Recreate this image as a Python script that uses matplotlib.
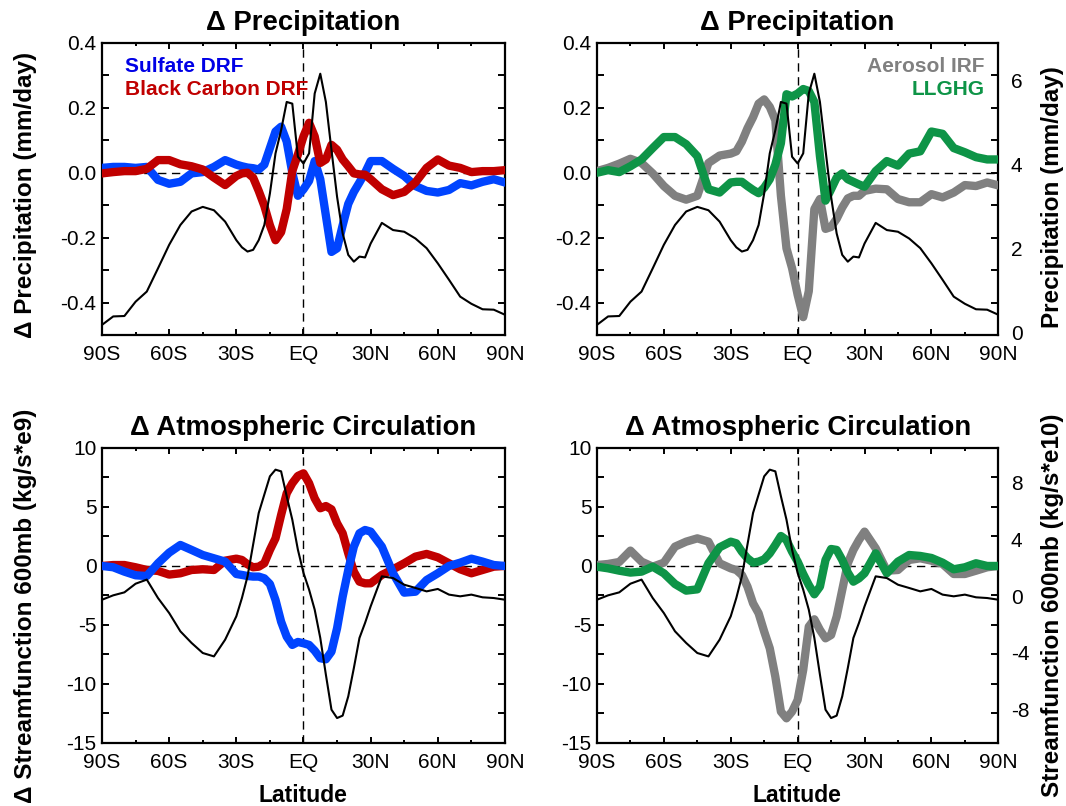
import numpy as np
import matplotlib.pyplot as plt

plt.rcParams['font.family'] = ['Liberation Sans', 'DejaVu Sans']
plt.rcParams['axes.unicode_minus'] = False

# latitude grid (5 deg outside the tropics, 2.5 deg inside)
lat = [-90, -85, -80, -75, -70, -65, -60, -55, -50, -45, -40, -35, -30,
       -27.5, -25, -22.5, -20, -17.5, -15, -12.5, -10, -7.5, -5, -2.5, 0,
       2.5, 5, 7.5, 10, 12.5, 15, 17.5, 20, 22.5, 25, 27.5, 30,
       35, 40, 45, 50, 55, 60, 65, 70, 75, 80, 85, 90]

# climatological precipitation (mm/day, right axis)
precip_clim = [0.19, 0.39, 0.40, 0.74, 0.98, 1.53, 2.09, 2.56, 2.88, 2.99, 2.91, 2.64, 2.20,
               2.03, 1.93, 1.97, 2.20, 2.56, 3.31, 4.26, 4.81, 5.48, 5.44, 4.18, 4.02,
               4.26, 5.68, 6.15, 5.48, 4.34, 3.23, 2.36, 1.85, 1.69, 1.81, 1.79, 2.12,
               2.61, 2.44, 2.40, 2.24, 2.01, 1.65, 1.26, 0.86, 0.69, 0.56, 0.55, 0.43]

# climatological streamfunction 600mb (kg/s*e10, right axis)
psi_clim = [-0.24, 0.07, 0.28, 0.89, 1.18, -0.12, -1.18, -2.47, -3.29, -4.00, -4.24, -3.06, -1.41,
            -0.12, 1.41, 3.65, 5.88, 7.18, 8.47, 8.94, 8.82, 7.06, 5.41, 3.29, 1.65,
            0.47, -0.94, -2.94, -5.53, -8.00, -8.59, -8.42, -7.06, -5.06, -2.94, -1.88, -0.71,
            1.41, 1.29, 0.82, 0.59, 0.35, 0.52, 0.12, 0.00, 0.12, -0.07, -0.12, -0.24]

# delta precipitation (mm/day)
dp_sulfate = [0.015, 0.018, 0.018, 0.015, 0.018, -0.022, -0.034, -0.028, -0.002, 0.002, 0.018, 0.039, 0.025,
              0.020, 0.016, 0.014, 0.010, 0.025, 0.076, 0.127, 0.142, 0.096, 0.000, -0.071, -0.051,
              -0.025, 0.036, -0.020, -0.132, -0.244, -0.233, -0.162, -0.096, -0.059, -0.030, 0.000, 0.036,
              0.036, 0.012, -0.010, -0.041, -0.056, -0.061, -0.053, -0.032, -0.039, -0.028, -0.020, -0.030]
dp_bc = [-0.002, 0.002, 0.005, 0.005, 0.012, 0.039, 0.039, 0.026, 0.020, 0.010, -0.015, -0.038, -0.010,
         -0.002, 0.000, -0.015, -0.056, -0.102, -0.162, -0.208, -0.183, -0.112, 0.005, 0.056, 0.112,
         0.154, 0.112, 0.030, 0.041, 0.086, 0.071, 0.041, 0.020, -0.002, -0.005, -0.006, -0.020,
         -0.051, -0.069, -0.059, -0.030, 0.015, 0.041, 0.022, 0.015, 0.002, 0.005, 0.005, 0.008]
dp_irf = [0.005, 0.015, 0.028, 0.043, 0.030, -0.002, -0.041, -0.071, -0.083, -0.071, 0.030, 0.053, 0.059,
          0.066, 0.096, 0.137, 0.171, 0.213, 0.226, 0.203, 0.162, -0.071, -0.233, -0.294, -0.376,
          -0.445, -0.365, -0.112, -0.081, -0.173, -0.167, -0.142, -0.107, -0.079, -0.071, -0.071, -0.056,
          -0.049, -0.051, -0.081, -0.091, -0.091, -0.066, -0.076, -0.061, -0.038, -0.041, -0.030, -0.039]
dp_llghg = [0.000, 0.008, 0.002, 0.020, 0.041, 0.076, 0.110, 0.110, 0.088, 0.051, -0.051, -0.061, -0.030,
            -0.028, -0.028, -0.041, -0.053, -0.063, -0.046, -0.020, 0.025, 0.091, 0.242, 0.235, 0.244,
            0.258, 0.252, 0.218, 0.051, -0.086, -0.051, -0.015, -0.002, -0.020, -0.028, -0.036, -0.043,
            0.005, 0.036, 0.022, 0.059, 0.066, 0.127, 0.120, 0.076, 0.063, 0.048, 0.041, 0.041]

# delta streamfunction 600mb (kg/s*e9)
dpsi_sulfate = [0.00, -0.11, -0.48, -0.79, -0.85, 0.23, 1.13, 1.78, 1.36, 0.93, 0.65, 0.37, -0.68,
                -0.76, -0.85, -0.90, -0.90, -1.05, -1.53, -2.88, -4.72, -5.99, -6.69, -6.44, -6.55,
                -6.69, -7.18, -7.82, -7.91, -7.26, -5.28, -2.60, -0.34, 1.64, 2.77, 3.05, 2.91,
                1.64, -0.62, -2.26, -2.18, -1.19, -0.62, 0.00, 0.28, 0.62, 0.37, 0.08, 0.00]
dpsi_bc = [0.00, 0.08, 0.08, -0.11, -0.34, -0.42, -0.73, -0.62, -0.34, -0.28, -0.34, 0.45, 0.62,
           0.51, 0.14, -0.11, -0.06, 0.23, 1.36, 2.34, 4.32, 6.16, 7.01, 7.63, 7.85,
           7.01, 5.73, 4.89, 5.08, 4.80, 3.62, 2.77, 1.07, -0.48, -1.33, -1.47, -1.47,
           -0.76, -0.28, 0.23, 0.79, 1.02, 0.73, 0.23, -0.28, -0.62, -0.34, -0.06, 0.00]
dpsi_irf = [0.08, 0.17, 0.34, 1.30, 0.37, -0.06, 0.28, 1.64, 2.06, 2.34, 2.06, 0.23, -0.20,
            -0.34, -0.76, -1.75, -3.16, -4.01, -5.56, -6.98, -9.38, -12.34, -12.91, -12.34, -11.36,
            -8.81, -5.14, -4.52, -5.42, -6.13, -5.85, -4.29, -2.03, 0.23, 1.36, 2.20, 2.91,
            1.50, -0.40, -0.34, 0.51, 0.65, 0.45, 0.17, -0.68, -0.68, -0.40, -0.11, 0.00]
dpsi_llghg = [-0.06, -0.20, -0.40, -0.56, -0.48, -0.06, -0.62, -1.53, -2.09, -1.98, 0.23, 1.58, 2.06,
              1.92, 1.21, 0.65, 0.28, 0.37, 0.56, 1.07, 1.78, 2.54, 2.20, 1.21, 0.37,
              -0.68, -1.61, -2.40, -1.75, 0.51, 1.44, 1.36, 0.51, -0.56, -1.33, -1.05, -0.62,
              1.07, -0.62, 0.37, 0.93, 0.85, 0.68, 0.28, -0.28, -0.11, 0.23, 0.00, 0.00]

lat_ticks = [-90, -60, -30, 0, 30, 60, 90]
lat_labels = ['90S', '60S', '30S', 'EQ', '30N', '60N', '90N']

c_blue = '#0044ff'
c_red = '#c00000'
c_grey = '#808080'
c_green = '#0e9447'
lw_thick = 6.0
lw_thin = 1.5
fs_tick = 15
fs_lab = 17.5

fig = plt.figure(figsize=(10.66, 8.06), dpi=100)

ax_tl = fig.add_axes([0.0957, 0.5844, 0.378, 0.3623])
ax_tr = fig.add_axes([0.5600, 0.5844, 0.3765, 0.3623])
ax_bl = fig.add_axes([0.0957, 0.0782, 0.378, 0.366])
ax_br = fig.add_axes([0.5600, 0.0782, 0.3765, 0.366])


def setup(ax, ylim, yticks, yminor, title, clim, clim_lim, clim_ticks, show_right):
    ax.set_xlim(-90, 90)
    ax.set_ylim(*ylim)
    ax.axhline(0, color='k', lw=1, ls=(0, (6, 4)), zorder=1)
    ax.axvline(0, color='k', lw=1, ls=(0, (6, 4)), zorder=1)
    ax.set_xticks(lat_ticks)
    ax.set_xticklabels(lat_labels)
    ax.set_xticks(np.arange(-75, 90, 30), minor=True)
    ax.set_yticks(yticks)
    ax.set_yticks(yminor, minor=True)
    ax.set_title(title, fontsize=19.8, fontweight='bold', pad=9)
    for s in ax.spines.values():
        s.set_linewidth(1.6)

    # climatology on its own (right) scale
    ax2 = ax.twinx()
    ax2.set_ylim(*clim_lim)
    ax2.plot(lat, clim, color='k', lw=lw_thin, zorder=5)
    ax2.set_yticks(clim_ticks)
    ax2.tick_params(axis='y', length=0, labelsize=fs_tick, pad=9)
    if not show_right:
        ax2.set_yticklabels([])
    for s in ax2.spines.values():
        s.set_visible(False)

    ax.tick_params(axis='both', which='both', direction='in', top=True, right=True,
                   labelsize=fs_tick, width=1.4)
    ax.tick_params(axis='x', which='major', length=4, pad=7)
    ax.tick_params(axis='x', which='minor', length=2.5)
    ax.tick_params(axis='y', which='major', length=5, pad=4)
    ax.tick_params(axis='y', which='minor', length=5)
    return ax2


# top-left
setup(ax_tl, (-0.5, 0.4), [-0.4, -0.2, 0.0, 0.2, 0.4], [-0.3, -0.1, 0.1, 0.3],
      'Δ Precipitation', precip_clim, (-0.05, 6.88), [0, 2, 4, 6], False)
ax_tl.plot(lat, dp_sulfate, color=c_blue, lw=lw_thick, zorder=3)
ax_tl.plot(lat, dp_bc, color=c_red, lw=lw_thick, zorder=4)
ax_tl.set_yticklabels(['-0.4', '-0.2', '0.0', '0.2', '0.4'])
ax_tl.text(0.057, 0.919, 'Sulfate DRF', transform=ax_tl.transAxes, color='#0000e6',
           fontsize=15, fontweight='bold', va='center', ha='left', zorder=10)
ax_tl.text(0.057, 0.841, 'Black Carbon DRF', transform=ax_tl.transAxes, color=c_red,
           fontsize=15, fontweight='bold', va='center', ha='left', zorder=10)

# top-right
setup(ax_tr, (-0.5, 0.4), [-0.4, -0.2, 0.0, 0.2, 0.4], [-0.3, -0.1, 0.1, 0.3],
      'Δ Precipitation', precip_clim, (-0.05, 6.88), [0, 2, 4, 6], True)
ax_tr.plot(lat, dp_irf, color=c_grey, lw=lw_thick, zorder=3)
ax_tr.plot(lat, dp_llghg, color=c_green, lw=lw_thick, zorder=4)
ax_tr.set_yticklabels(['-0.4', '-0.2', '0.0', '0.2', '0.4'])
ax_tr.text(0.965, 0.919, 'Aerosol IRF', transform=ax_tr.transAxes, color=c_grey,
           fontsize=15, fontweight='bold', va='center', ha='right', zorder=10)
ax_tr.text(0.965, 0.841, 'LLGHG', transform=ax_tr.transAxes, color=c_green,
           fontsize=15, fontweight='bold', va='center', ha='right', zorder=10)

# bottom-left
setup(ax_bl, (-15, 10), [-15, -10, -5, 0, 5, 10], np.arange(-12.5, 10, 5),
      'Δ Atmospheric Circulation', psi_clim, (-10.35, 10.47), [-8, -4, 0, 4, 8], False)
ax_bl.plot(lat, dpsi_bc, color=c_red, lw=lw_thick, zorder=3)
ax_bl.plot(lat, dpsi_sulfate, color=c_blue, lw=lw_thick, zorder=4)

# bottom-right
setup(ax_br, (-15, 10), [-15, -10, -5, 0, 5, 10], np.arange(-12.5, 10, 5),
      'Δ Atmospheric Circulation', psi_clim, (-10.35, 10.47), [-8, -4, 0, 4, 8], True)
ax_br.plot(lat, dpsi_irf, color=c_grey, lw=lw_thick, zorder=3)
ax_br.plot(lat, dpsi_llghg, color=c_green, lw=lw_thick, zorder=4)

# axis labels
fig.text(0.024, 0.758, 'Δ Precipitation (mm/day)', rotation=90, fontsize=fs_lab,
         fontweight='bold', ha='center', va='center')
fig.text(0.024, 0.248, 'Δ Streamfunction 600mb (kg/s*e9)', rotation=90, fontsize=fs_lab,
         fontweight='bold', ha='center', va='center')
fig.text(0.987, 0.756, 'Precipitation (mm/day)', rotation=90, fontsize=fs_lab,
         fontweight='bold', ha='center', va='center')
fig.text(0.987, 0.249, 'Streamfunction 600mb (kg/s*e10)', rotation=90, fontsize=fs_lab,
         fontweight='bold', ha='center', va='center')
fig.text(0.284, 0.0136, 'Latitude', fontsize=16.5, fontweight='bold', ha='center', va='center')
fig.text(0.748, 0.0136, 'Latitude', fontsize=16.5, fontweight='bold', ha='center', va='center')

fig.savefig('out.png', dpi=100)
